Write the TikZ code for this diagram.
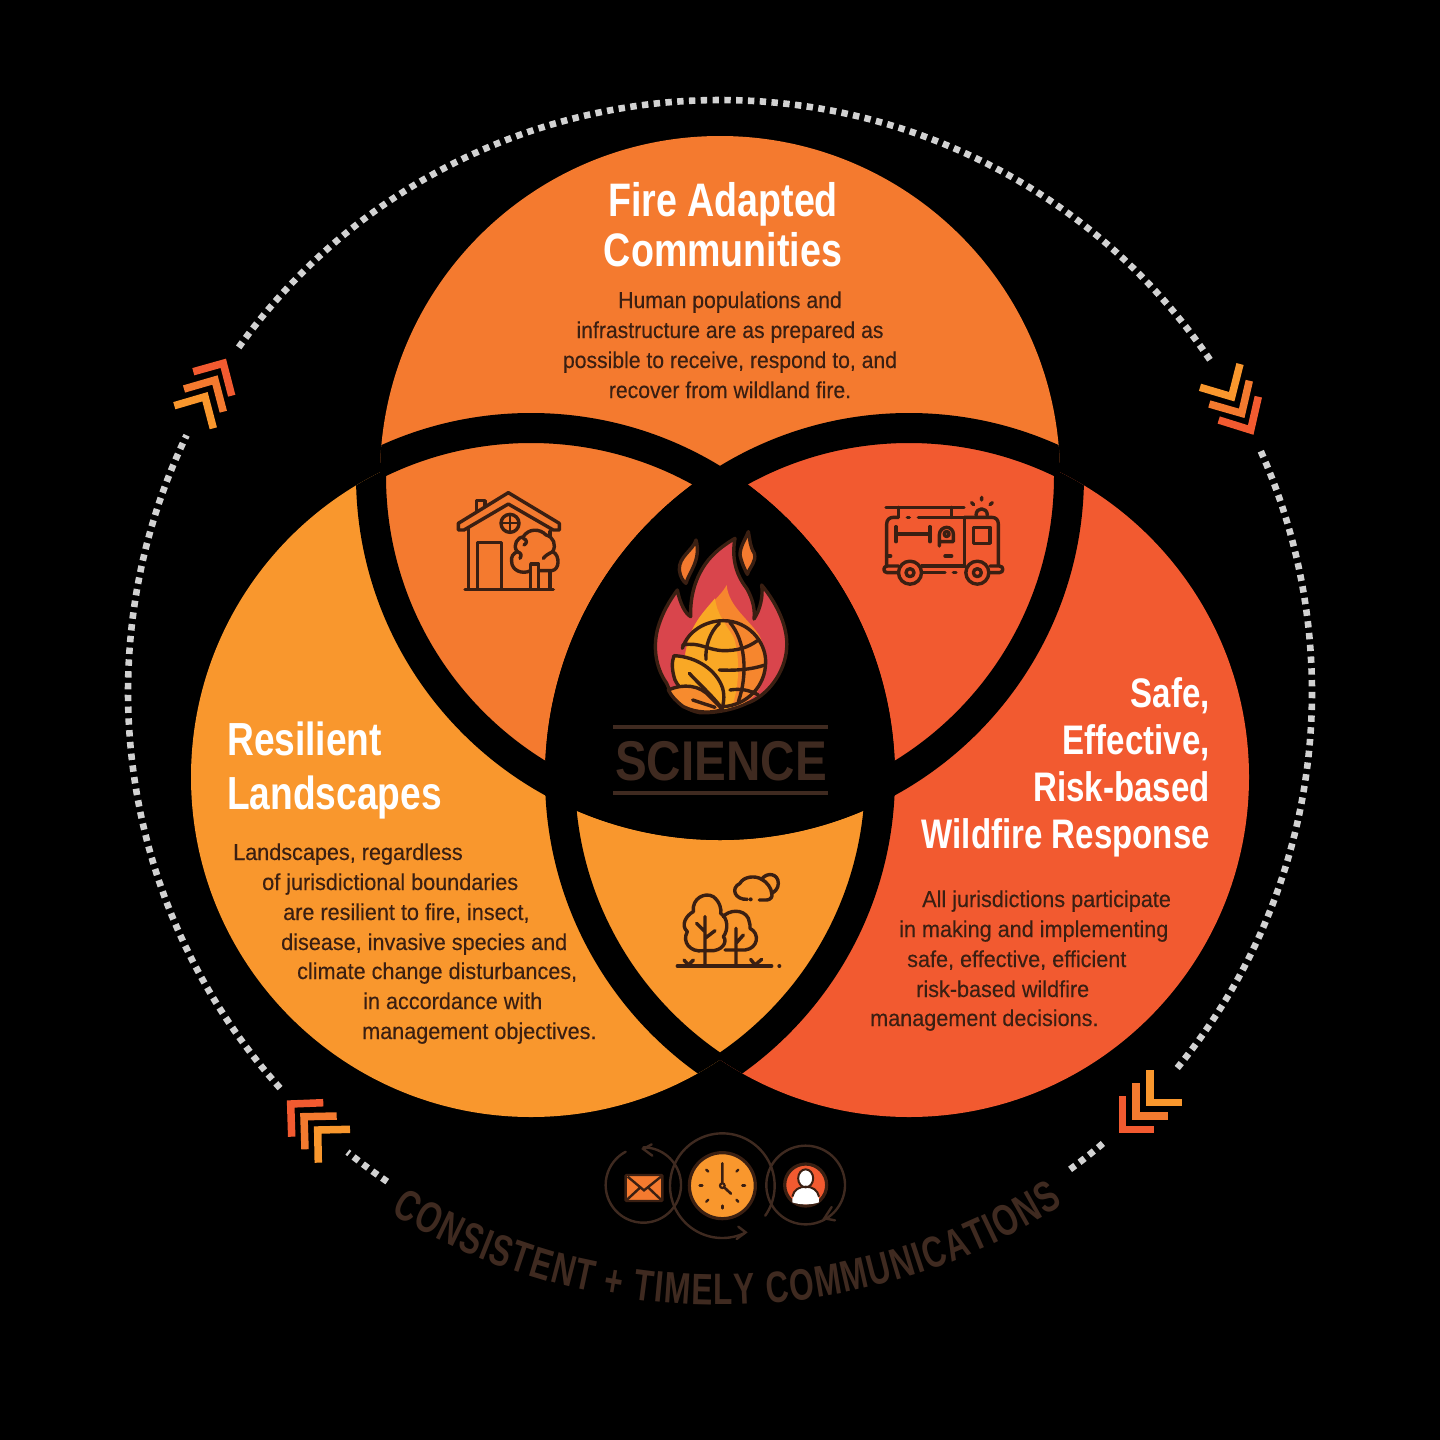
\documentclass[tikz,border=0pt]{standalone}
\usepackage{fontspec}
\usetikzlibrary{decorations.text,arrows.meta}
\setmainfont{Liberation Sans}
\newfontfamily\titlefont[FakeStretch=0.8]{Liberation Sans}
\newfontfamily\scifont[FakeStretch=0.85]{Liberation Sans}
\newfontfamily\bodyfont[FakeStretch=0.94,FakeBold=0.25]{Liberation Sans}
\newfontfamily\bodytopfont[FakeStretch=0.92,FakeBold=0.25]{Liberation Sans}
\newfontfamily\ringfont[FakeStretch=0.72]{Liberation Sans}
\definecolor{topc}{HTML}{F47A2F}
\definecolor{leftc}{HTML}{F9972D}
\definecolor{rightc}{HTML}{F25A30}
\definecolor{ink}{HTML}{3A1F12}
\definecolor{softink}{HTML}{3F2A20}
\definecolor{dotc}{HTML}{D2D2D2}
\definecolor{flamered}{HTML}{D9454C}
\definecolor{flameyel}{HTML}{F9A825}
\tikzset{
  band/.style={line width=30pt,black},
  ringdots/.style={dotc,line width=6.6pt,dash pattern=on 6.4pt off 5.4pt},
  chev/.style={line width=7.5pt,line join=miter,line cap=butt},
  titletop/.style={text=white,font=\titlefont\bfseries\fontsize{47}{47}\selectfont,inner sep=0pt,text height=33pt,text depth=0pt},
  titleleft/.style={text=white,font=\titlefont\bfseries\fontsize{46.4}{46.4}\selectfont,inner sep=0pt,text height=33pt,text depth=0pt},
  titleright/.style={text=white,font=\titlefont\bfseries\fontsize{41.3}{41.3}\selectfont,inner sep=0pt,text height=30pt,text depth=0pt},
  bodytxt/.style={text=ink,font=\bodyfont\fontsize{23}{23}\selectfont,inner sep=0pt,text height=16pt,text depth=0pt},
  bodytop/.style={text=ink,font=\bodytopfont\fontsize{23}{23}\selectfont,inner sep=0pt,text height=16pt,text depth=0pt},
  icon/.style={draw=ink,line width=3.4pt,line join=round,line cap=round},
  commarc/.style={draw=softink,line width=2.4pt,line cap=round},
}
\begin{document}
\begin{tikzpicture}[x=1pt,y=-1pt]
\useasboundingbox (0,0) rectangle (1440,1440);
\fill[black] (0,0) rectangle (1440,1440);
\coordinate (T) at (720,476);
\coordinate (L) at (531,777);
\coordinate (R) at (909,777);
% discs
\fill[rightc] (R) circle[radius=340pt];
\fill[leftc] (L) circle[radius=340pt];
\fill[topc] (T) circle[radius=340pt];
\begin{scope}\clip (T) circle[radius=340pt]; \fill[rightc] (R) circle[radius=340pt];\end{scope}
% bands
\begin{scope}\clip (T) circle[radius=340pt] (R) circle[radius=340pt]; \draw[band] (L) circle[radius=349pt];\end{scope}
\begin{scope}\clip (T) circle[radius=340pt] (L) circle[radius=340pt]; \draw[band] (R) circle[radius=349pt];\end{scope}
\begin{scope}\clip (L) circle[radius=340pt] (R) circle[radius=340pt]; \draw[band] (T) circle[radius=349pt];\end{scope}
\begin{scope}\clip (T) circle[radius=364pt]; \clip (L) circle[radius=364pt]; \fill[black] (R) circle[radius=364pt];\end{scope}
% ring dots
\draw[ringdots] plot[domain=215.6:326,samples=160] ({720+592*cos(\x)},{692+592*sin(\x)});
\draw[ringdots] plot[domain=-24:39.7,samples=100] ({720+592*cos(\x)},{692+592*sin(\x)});
\draw[ringdots] plot[domain=49.7:54.2,samples=12] ({720+592*cos(\x)},{692+592*sin(\x)});
\draw[ringdots] plot[domain=124.2:129,samples=12] ({720+592*cos(\x)},{692+592*sin(\x)});
\draw[ringdots] plot[domain=138:205.7,samples=100] ({720+592*cos(\x)},{692+592*sin(\x)});
% chevrons
\draw[chev,rightc] (193.3,371.7) -- (223.3,363.3) -- (231.7,395.7);
\draw[chev,topc] (184,389) -- (215,380) -- (223.3,411.7);
\draw[chev,leftc] (174.3,405.7) -- (205,396.7) -- (213.3,428.3);
\draw[chev,leftc] (1240,364) -- (1231.7,396.7) -- (1200,387.3);
\draw[chev,topc] (1249.3,380.7) -- (1241.7,413.3) -- (1209.3,404);
\draw[chev,rightc] (1258.3,396.7) -- (1250.7,430) -- (1218.7,420);
\draw[chev,leftc] (1150,1070) -- (1150,1102.7) -- (1181.7,1102.7);
\draw[chev,topc] (1136,1083.3) -- (1136,1116) -- (1167.7,1116);
\draw[chev,rightc] (1122.7,1096) -- (1122.7,1129.3) -- (1154.3,1129.3);
\draw[chev,rightc] (323.3,1102.7) -- (290.7,1104) -- (291.7,1136.7);
\draw[chev,topc] (336.7,1116) -- (304,1116.7) -- (305,1149.3);
\draw[chev,leftc] (350,1129.3) -- (317.7,1130) -- (318.3,1162.7);
% titles
\node[titletop] (t1) at (723,200) {Fire Adapted};
\node[titletop] (t2) at (723,250) {Communities};
\node[titleleft,anchor=west] (t3) at (227,739) {Resilient};
\node[titleleft,anchor=west] (t4) at (227,793) {Landscapes};
\node[titleright,anchor=east] (t5) at (1210,692) {Safe,};
\node[titleright,anchor=east] (t6) at (1210,739) {Effective,};
\node[titleright,anchor=east] (t7) at (1210,786) {Risk-based};
\node[titleright,anchor=east] (t8) at (1210,833) {Wildfire Response};
% bodies
\node[bodytop] (b1) at (730,300) {Human populations and};
\node[bodytop] (b2) at (730,330) {infrastructure are as prepared as};
\node[bodytop] (b3) at (730,360) {possible to receive, respond to, and};
\node[bodytop] (b4) at (730,390) {recover from wildland fire.};
\node[bodytxt,anchor=west] (l1) at (233,852) {Landscapes, regardless};
\node[bodytxt,anchor=west] (l2) at (262,882) {of jurisdictional boundaries};
\node[bodytxt,anchor=west] (l3) at (283,912) {are resilient to fire, insect,};
\node[bodytxt,anchor=west] (l4) at (281,942) {disease, invasive species and};
\node[bodytxt,anchor=west] (l5) at (297,971) {climate change disturbances,};
\node[bodytxt,anchor=west] (l6) at (363,1001) {in accordance with};
\node[bodytxt,anchor=west] (l7) at (362,1031) {management objectives.};
\node[bodytxt,anchor=west] (r1) at (922,899) {All jurisdictions participate};
\node[bodytxt,anchor=west] (r2) at (899,929) {in making and implementing};
\node[bodytxt,anchor=west] (r3) at (907,959) {safe, effective, efficient};
\node[bodytxt,anchor=west] (r4) at (916,989) {risk-based wildfire};
\node[bodytxt,anchor=west] (r5) at (870,1018) {management decisions.};
% science
\draw[softink,line width=3.5pt] (613,727) -- (828,727);
\draw[softink,line width=3.5pt] (613,793) -- (828,793);
\node[text=softink,font=\scifont\bfseries\fontsize{56}{56}\selectfont,inner sep=0pt,text height=40pt,text depth=0pt] (sci) at (721,760) {SCIENCE};
% curved text
\path[decorate,decoration={text along path,text={|\ringfont\bfseries\fontsize{44}{44}\selectfont|CONSISTENT + TIMELY COMMUNICATIONS},text color=softink,text align={fit to path}}]
  plot[domain=121:57.5,samples=80] ({720+640*cos(\x)},{665+640*sin(\x)});
% fire icon
\begin{scope}[shift={(600,520)},x=0.33333pt,y=-0.33333pt]
\draw[icon,fill=flamered] (232,210) .. controls (240,250) and (255,280) .. (272,290) .. controls (270,230) and (285,170) .. (325,120) .. controls (350,90) and (380,70) .. (405,55) .. controls (395,110) and (405,160) .. (440,205) .. controls (460,240) and (465,270) .. (462,297) .. controls (480,270) and (490,230) .. (485,195) .. controls (530,250) and (565,320) .. (560,385) .. controls (555,460) and (500,530) .. (440,550) .. controls (400,570) and (340,580) .. (300,578) .. controls (250,570) and (215,530) .. (200,490) .. controls (165,440) and (160,380) .. (172,330) .. controls (185,280) and (210,240) .. (232,210) -- cycle;
\fill[topc!60!leftc] (380,195) .. controls (360,235) and (290,280) .. (268,350) .. controls (240,430) and (250,520) .. (300,565) .. controls (350,575) and (420,565) .. (460,530) .. controls (500,490) and (505,410) .. (480,350) .. controls (450,300) and (385,260) .. (380,195) -- cycle;
\fill[flameyel] (345,235) .. controls (320,265) and (285,300) .. (270,350) .. controls (240,430) and (250,520) .. (300,565) .. controls (340,572) and (380,570) .. (395,560) .. controls (420,500) and (420,400) .. (400,350) .. controls (375,310) and (350,280) .. (345,235) -- cycle;
\draw[icon,fill=topc] (288,60) .. controls (280,90) and (235,110) .. (238,150) .. controls (240,170) and (250,185) .. (258,190) .. controls (265,160) and (305,120) .. (288,60) -- cycle;
\draw[icon,fill=topc] (445,35) .. controls (435,60) and (420,80) .. (420,105) .. controls (425,130) and (435,150) .. (442,163) .. controls (450,140) and (470,125) .. (463,100) .. controls (450,80) and (450,60) .. (445,35) -- cycle;
% globe
\draw[icon] (247,385) .. controls (265,330) and (320,302) .. (370,302) .. controls (445,302) and (497,365) .. (497,425) .. controls (497,500) and (440,555) .. (370,560);
\draw[icon] (248,375) .. controls (300,365) and (320,390) .. (370,392) .. controls (410,392) and (440,385) .. (472,362);
\draw[icon] (318,418) .. controls (315,380) and (330,335) .. (358,310);
\draw[icon] (390,308) .. controls (435,360) and (445,460) .. (415,545);
\draw[icon] (358,450) .. controls (400,452) and (450,450) .. (495,435);
\draw[icon] (390,510) .. controls (420,505) and (450,510) .. (475,525);
% leaves
\draw[icon,fill=flameyel] (222,407) .. controls (290,410) and (350,450) .. (368,505) .. controls (375,530) and (370,555) .. (365,568) .. controls (320,570) and (250,530) .. (225,480) .. controls (215,450) and (215,425) .. (222,407) -- cycle;
\draw[icon,fill=topc!40!leftc] (205,510) .. controls (250,490) and (300,495) .. (330,530) .. controls (345,545) and (360,560) .. (367,568) .. controls (340,580) and (290,580) .. (250,560) .. controls (230,545) and (215,530) .. (205,510) -- cycle;
\draw[icon] (268,460) .. controls (295,490) and (330,520) .. (362,560);
\draw[icon] (278,540) -- (345,562);
\end{scope}
% house
\begin{scope}[shift={(440,480)},x=0.33333pt,y=-0.33333pt]
\draw[icon] (85,145) -- (85,325);
\draw[icon] (75,328) -- (340,328);
\draw[icon] (330,155) -- (330,185);
\draw[icon] (330,275) -- (330,325);
\draw[icon] (112,325) -- (112,188) -- (185,188) -- (185,325);
\draw[icon] (110,92) -- (110,62) -- (135,62) -- (135,78);
\draw[icon] (55,130) -- (205,38) -- (358,130) -- (358,150) -- (340,150) -- (205,72) -- (72,150) -- (55,150) -- cycle;
\draw[icon] (210,130) circle[radius=9pt];
\draw[icon,line width=2pt] (182,130) -- (238,130) (210,103) -- (210,157);
\draw[icon,fill=topc] (272,272) .. controls (245,285) and (215,270) .. (215,245) .. controls (212,230) and (220,220) .. (232,215) .. controls (215,195) and (235,170) .. (250,170) .. controls (265,145) and (300,145) .. (318,165) .. controls (340,170) and (350,195) .. (338,215) .. controls (360,225) and (360,270) .. (335,272) -- (300,272);
\draw[icon,fill=topc] (272,325) -- (272,252) -- (296,252) -- (296,325);
\draw[icon] (250,175) .. controls (262,180) and (262,190) .. (252,195);
\draw[icon] (232,215) .. controls (245,220) and (245,225) .. (240,235);
\draw[icon] (338,215) .. controls (325,222) and (318,225) .. (310,235);
\end{scope}
% truck
\begin{scope}[shift={(870,490)},x=0.33333pt,y=-0.33333pt]
\draw[icon] (48,52) -- (282,52);
\draw[icon] (85,52) -- (85,82) (245,52) -- (245,82);
\draw[icon] (112,82) -- (118,82);
\draw[icon] (145,82) -- (283,82) -- (283,225);
\draw[icon] (85,82) -- (70,82) .. controls (58,82) and (50,90) .. (50,102) -- (50,225);
\draw[icon] (283,82) -- (365,82) .. controls (378,82) and (385,90) .. (385,102) -- (385,225);
\draw[icon] (78,110) -- (78,155) (180,110) -- (180,155) (78,132) -- (180,132);
\draw[icon] (310,112) rectangle (360,160);
\draw[icon] (225,198) -- (245,198);
\draw[icon] (208,168) -- (208,135) .. controls (208,120) and (220,112) .. (230,112) .. controls (242,112) and (250,122) .. (250,132) -- (250,155) -- (210,155);
\draw[icon] (230,132) circle[radius=2.5pt];
\draw[icon] (318,76) .. controls (318,50) and (352,50) .. (352,76);
\draw[icon] (335,22) -- (335,30) (305,38) -- (311,44) (367,38) -- (360,44);
\draw[icon] (50,198) -- (62,198);
\draw[icon] (85,228) -- (52,228) .. controls (38,228) and (38,248) .. (52,248) -- (85,248);
\draw[icon] (160,248) -- (225,248) (250,248) -- (258,248);
\draw[icon] (360,248) -- (388,248) .. controls (402,248) and (402,228) .. (388,228) -- (360,228);
\draw[icon] (155,228) -- (285,228);
\draw[icon] (120,248) circle[radius=11.5pt];
\draw[icon] (120,248) circle[radius=4pt];
\draw[icon] (322,248) circle[radius=11.5pt];
\draw[icon] (322,248) circle[radius=4pt];
\end{scope}
% trees
\begin{scope}[shift={(660,860)},x=0.33333pt,y=-0.33333pt]
\draw[icon] (130,272) .. controls (90,278) and (65,245) .. (82,215) .. controls (60,195) and (80,165) .. (100,155) .. controls (95,115) and (135,95) .. (160,110) .. controls (180,125) and (185,150) .. (182,160) .. controls (205,175) and (205,210) .. (190,230) .. controls (205,245) and (185,275) .. (150,272) -- (130,272);
\draw[icon] (190,170) .. controls (205,150) and (250,145) .. (265,175) .. controls (270,195) and (272,200) .. (270,205) .. controls (300,220) and (295,265) .. (255,270) -- (195,270);
\draw[icon] (135,170) -- (135,315) (135,215) -- (110,190) (135,235) -- (165,212);
\draw[icon] (228,205) -- (228,315) (228,250) -- (250,225);
\draw[icon] (52,318) -- (335,318);
\draw[icon] (72,300) -- (85,315) (100,300) -- (85,315);
\draw[icon] (272,298) -- (285,315) (305,298) -- (285,315);
\fill[ink] (358,318) circle[radius=2pt];
\draw[icon] (262,118) .. controls (225,120) and (210,85) .. (240,70) .. controls (250,50) and (285,45) .. (305,58) .. controls (320,35) and (355,40) .. (355,70) .. controls (355,85) and (345,95) .. (335,100) .. controls (340,110) and (330,120) .. (320,120) -- (298,120);
\draw[icon] (305,58) .. controls (320,65) and (335,85) .. (335,100);
\fill[ink] (272,118) circle[radius=2pt];
\end{scope}
% comms
\begin{scope}[shift={(595,1125)},x=0.33333pt,y=-0.33333pt]
\draw[commarc] plot[domain=242:-90,samples=90] ({145+113*cos(\x)},{180+113*sin(\x)});
\draw[commarc] (170,58) -- (145,72) -- (172,92);
\draw[commarc] plot[domain=35:-295.5,samples=110] ({382+157*cos(\x)},{182+157*sin(\x)});
\draw[commarc] (430,305) -- (452,322) -- (425,342);
\draw[commarc] plot[domain=90:-298,samples=130] ({632+118*cos(\x)},{180+118*sin(\x)});
\draw[commarc] (720,286) -- (688,280) -- (710,246);
\draw[draw=ink,line width=3.2pt,fill=leftc] (382,182) circle[radius=33pt];
\draw[icon,line width=2.6pt] (382,115) -- (382,182) -- (408,206);
\fill[ink] (382,182) circle[radius=3.5pt];
\fill[leftc] (382,182) circle[radius=1.2pt];
\foreach \a in {0,45,90,135,180,225,315}{
  \draw[icon,line width=2.4pt] ({382+60*cos(\a)},{182+60*sin(\a)}) -- ({382+68*cos(\a)},{182+68*sin(\a)});}
\draw[draw=ink,line width=2.4pt,fill=topc,rounded corners=1pt] (92,150) rectangle (202,228);
\draw[draw=ink,line width=2.4pt] (98,155) -- (147,196) -- (198,155) (95,225) -- (135,188) (199,225) -- (160,188);
\draw[draw=ink,line width=3.2pt,fill=rightc] (632,180) circle[radius=21pt];
\fill[white] (592,232) .. controls (590,205) and (610,185) .. (632,185) .. controls (655,185) and (674,205) .. (672,232) .. controls (650,240) and (615,240) .. (592,232) -- cycle;
\draw[draw=ink,line width=2pt,fill=white] (632,160) ellipse[x radius=7.5pt,y radius=9pt];
\draw[ink,line width=2pt] (592,215) .. controls (596,195) and (612,185) .. (632,185) .. controls (652,185) and (668,195) .. (672,215);
\end{scope}
\end{tikzpicture}
\end{document}
